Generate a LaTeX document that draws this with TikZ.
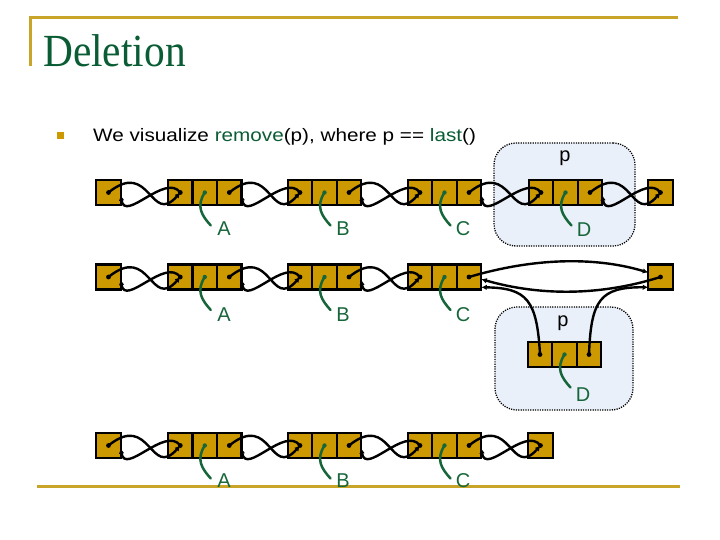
\documentclass[tikz,border=0pt]{standalone}
\usepackage{fontspec}
\setmainfont{Liberation Serif}
\newfontfamily\sansf{Liberation Sans}
\usetikzlibrary{arrows.meta}
\definecolor{gold}{RGB}{204,153,0}
\definecolor{lgold}{RGB}{200,165,40}
\definecolor{tgreen}{RGB}{10,92,52}
\definecolor{pgreen}{RGB}{22,102,58}
\definecolor{boxblue}{RGB}{234,240,250}
\newcommand\tnode[3]{%
  \node[cell] (#1L) at (#2-24.5,#3) {};
  \node[cell] (#1M) at (#2,#3) {};
  \node[cell] (#1R) at (#2+24.5,#3) {};}
\newcommand\lnk[2]{%
  \draw[ptr] (#1.center) .. controls +(42,-34) and +(-30,34) .. (#2.center);
  \draw[ptr] (#2.center) .. controls +(-15,-20) and +(4,28) .. (#1.-12);}
\newcommand\gp[1]{%
  \draw[gptr] (#1.center) .. controls +(-9,14) and +(-9,-10) .. +(6,33);
  \fill[pgreen] (#1.center) circle (2.2);}
\newcommand\dt[1]{\fill (#1.center) circle (2.4);}
\begin{document}
\begin{tikzpicture}[x=1pt,y=-1pt,
  cell/.style={draw=black,line width=2.3pt,fill=gold,minimum width=24.5pt,minimum height=25pt,inner sep=0pt,outer sep=0pt},
  ptr/.style={draw=black,line width=2.4pt,-{Latex[length=5.5pt,width=5.5pt]}},
  gptr/.style={draw=pgreen,line width=2.5pt,line cap=round},
  lbl/.style={text=pgreen,font=\sansf\fontsize{20}{22}\selectfont,inner sep=0pt},
  plbl/.style={text=black,font=\sansf\fontsize{20}{22}\selectfont,inner sep=0pt},
  pbox/.style={draw=black,fill=boxblue,line width=1.3pt,dash pattern=on 1.2pt off 1.2pt,rounded corners=22pt,inner sep=0pt},
  goldline/.style={draw=lgold,line width=3pt}]
\useasboundingbox (0,0) rectangle (720,540);
% frame lines
\draw[goldline] (30,66) -- (30,18) -- (678,18);
\draw[goldline] (37,486) -- (680,486);
% title and bullet
\node[anchor=base west,inner sep=0pt,text=tgreen,font=\fontsize{46}{50}\selectfont,xscale=0.9] (title) at (43,67) {Deletion};
\node[fill=gold,minimum size=7pt,inner sep=0pt] (bul) at (60,136) {};
\node[anchor=base west,inner sep=0pt,font=\sansf\fontsize{18}{20}\selectfont,xscale=1.15] (txt) at (93,142) {We visualize \textcolor{tgreen}{remove}(p), where p == \textcolor{tgreen}{last}()};
% boxes
\node[pbox,minimum width=141pt,minimum height=103pt] (box1) at (564.5,194.5) {};
\node[pbox,minimum width=138pt,minimum height=103pt] (box2) at (564,358.5) {};
\node[plbl] (p1) at (565,158) {p};
\node[plbl] (p2) at (563,323) {p};
% ---------------- row 1
\node[cell] (r1h) at (108.5,192.5) {};
\tnode{r1a}{204.8}{192.5}
\tnode{r1b}{324.5}{192.5}
\tnode{r1c}{444.5}{192.5}
\tnode{r1d}{565.5}{192.5}
\node[cell] (r1t) at (660.5,192.5) {};
\lnk{r1h}{r1aL}
\lnk{r1aR}{r1bL}
\lnk{r1bR}{r1cL}
\lnk{r1cR}{r1dL}
\lnk{r1dR}{r1t}
\foreach \n in {r1h,r1aL,r1aR,r1bL,r1bR,r1cL,r1cR,r1dL,r1dR,r1t} {\dt{\n}}
\gp{r1aM}\gp{r1bM}\gp{r1cM}\gp{r1dM}
\node[lbl] (r1la) at (224,229) {A};
\node[lbl] (r1lb) at (343,229) {B};
\node[lbl] (r1lc) at (463,229) {C};
\node[lbl] (r1ld) at (584,230) {D};
% ---------------- row 2
\node[cell] (r2h) at (108.5,277) {};
\tnode{r2a}{204.8}{277}
\tnode{r2b}{324.5}{277}
\tnode{r2c}{444.5}{277}
\tnode{r2d}{564.5}{354.5}
\node[cell] (r2t) at (660.5,277) {};
\lnk{r2h}{r2aL}
\lnk{r2aR}{r2bL}
\lnk{r2bR}{r2cL}
\draw[ptr] (r2cR.center) .. controls (540,256) and (600,258) .. (r2t.160);
\draw[ptr] (r2t.center) .. controls (600,296) and (540,296) .. (r2cR.-10);
\draw[ptr] (r2dL.center) .. controls (537,300) and (527,288) .. (r2cR.-40);
\draw[ptr] (r2dR.center) .. controls (591,300) and (600,287) .. (r2t.-140);
\foreach \n in {r2h,r2aL,r2aR,r2bL,r2bR,r2cL,r2cR,r2dL,r2dR,r2t} {\dt{\n}}
\gp{r2aM}\gp{r2bM}\gp{r2cM}\gp{r2dM}
\node[lbl] (r2la) at (224,315) {A};
\node[lbl] (r2lb) at (343,315) {B};
\node[lbl] (r2lc) at (463,315) {C};
\node[lbl] (r2ld) at (583,395) {D};
% ---------------- row 3
\node[cell] (r3h) at (108.5,445.5) {};
\tnode{r3a}{204.8}{445.5}
\tnode{r3b}{324.5}{445.5}
\tnode{r3c}{444.5}{445.5}
\node[cell] (r3t) at (540.5,445.5) {};
\lnk{r3h}{r3aL}
\lnk{r3aR}{r3bL}
\lnk{r3bR}{r3cL}
\lnk{r3cR}{r3t}
\foreach \n in {r3h,r3aL,r3aR,r3bL,r3bR,r3cL,r3cR,r3t} {\dt{\n}}
\gp{r3aM}\gp{r3bM}\gp{r3cM}
\node[lbl] (r3la) at (224,481) {A};
\node[lbl] (r3lb) at (343,481) {B};
\node[lbl] (r3lc) at (463,481) {C};
\end{tikzpicture}
\end{document}
